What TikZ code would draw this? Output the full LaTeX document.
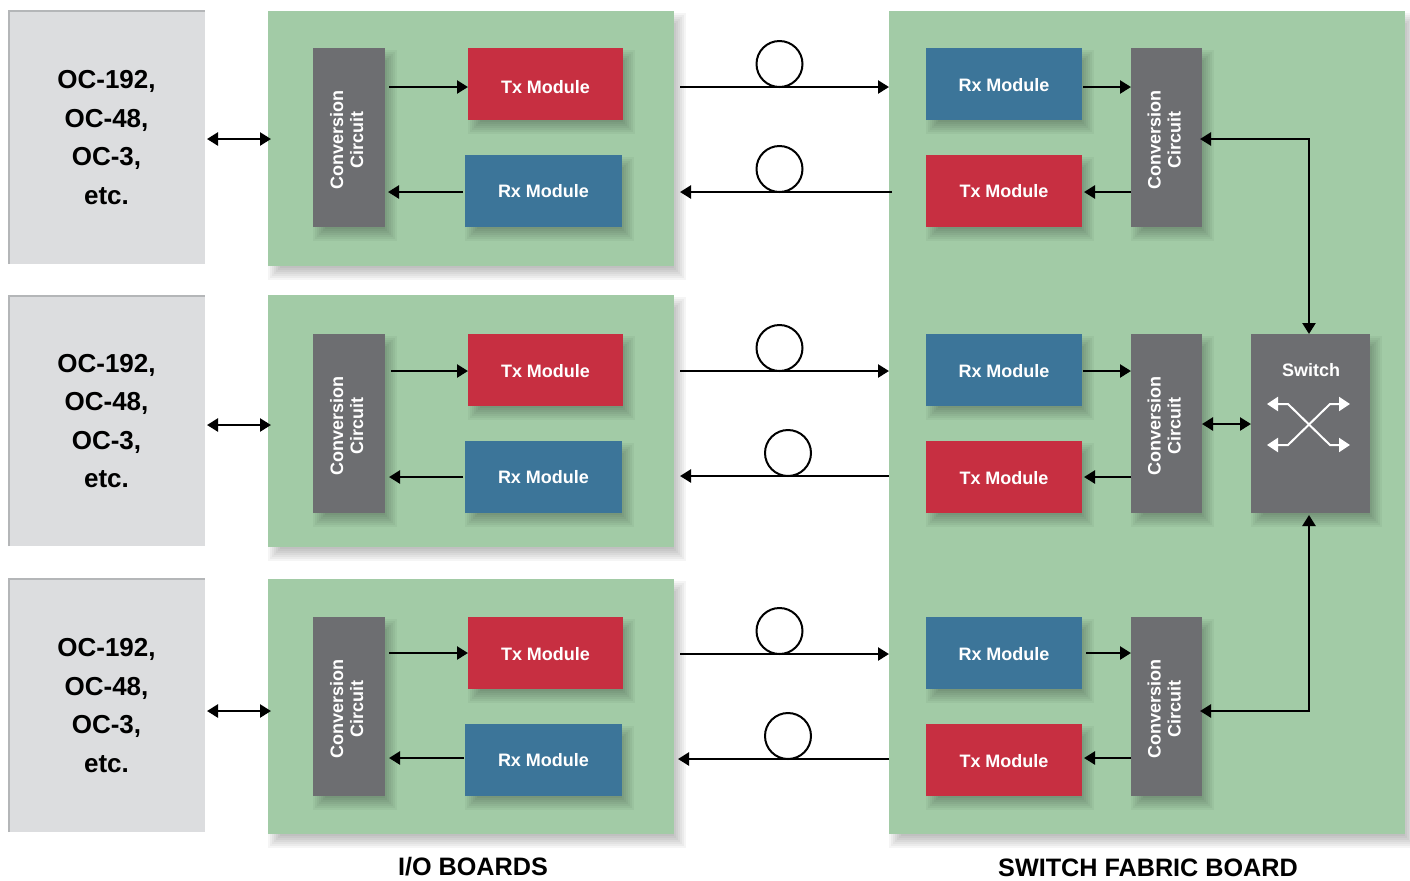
\documentclass[tikz,border=0pt]{standalone}
\usepackage{fontspec}
\usepackage{graphicx}
\setmainfont{Liberation Sans}
\usetikzlibrary{arrows.meta}
\definecolor{greybox}{HTML}{DCDDDF}
\definecolor{greyedge}{HTML}{B4B6B8}
\definecolor{boardgreen}{HTML}{A2CBA6}
\definecolor{darkbox}{HTML}{6D6E71}
\definecolor{redbox}{HTML}{C72F41}
\definecolor{bluebox}{HTML}{3C7599}
\tikzset{
  plainbox/.style={inner sep=0pt,outer sep=0pt,draw=none},
  linebox/.style={plainbox,fill=greybox,font=\fontsize{13}{19.3}\selectfont\bfseries,align=center,text=black},
  board/.style={plainbox,fill=boardgreen},
  convbox/.style={plainbox,fill=darkbox,text=white,font=\fontsize{9}{10}\selectfont\bfseries},
  txbox/.style={plainbox,fill=redbox,text=white,font=\fontsize{9}{11}\selectfont\bfseries},
  rxbox/.style={plainbox,fill=bluebox,text=white,font=\fontsize{9}{11}\selectfont\bfseries},
  lowtext/.style={text height=7.4pt,text depth=0pt},
  lowertext/.style={text height=9.4pt,text depth=0pt},
  arr/.style={draw=black,line width=1.2pt,-{Triangle[length=5.5pt,width=6.5pt]}},
  darr/.style={draw=black,line width=1.2pt,{Triangle[length=5.5pt,width=6.5pt]}-{Triangle[length=5.5pt,width=6.5pt]}},
  warr/.style={draw=white,line width=1pt,{Triangle[length=5.5pt,width=7pt]}-{Triangle[length=5.5pt,width=7pt]}},
  fiber/.style={draw=black,line width=1pt,fill=white},
  title/.style={font=\fontsize{12.6}{15}\selectfont\bfseries,text=black,inner sep=0pt}
}
\newcommand{\softshadow}[4]{%
  \foreach \sk in {-6,-4,...,6} {%
    \fill[black,opacity=0.04] ({#1+6-\sk},{#2+8-\sk}) rectangle ({#3+6+\sk},{#4+8+\sk});
  }%
}
\newcommand{\bx}[7]{%
  \pgfmathsetmacro\bxcx{(#2+#4)/2}%
  \pgfmathsetmacro\bxcy{(#3+#5)/2}%
  \pgfmathsetmacro\bxw{(#4-#2)*0.5}%
  \pgfmathsetmacro\bxh{(#5-#3)*0.5}%
  \node[#6,minimum width=\bxw pt,minimum height=\bxh pt] (#1) at (\bxcx,\bxcy) {#7};
}
\newcommand{\sbx}[7]{\softshadow{#2}{#3}{#4}{#5}\bx{#1}{#2}{#3}{#4}{#5}{#6}{#7}}
\newcommand{\conv}{\rotatebox{90}{\begin{tabular}{@{}c@{}}Conversion\\Circuit\end{tabular}\hspace{2.5pt}}}
\newcommand{\oc}{OC-192,\\OC-48,\\OC-3,\\etc.}
\newcommand{\txm}{Tx Module}
\newcommand{\rxm}{Rx Module}
\begin{document}
\begin{tikzpicture}[x=0.5pt,y=-0.5pt]
\useasboundingbox (0,0) rectangle (1410,880);
% outside blocks
\bx{g1}{8}{11}{205}{264}{linebox}{\oc}
\bx{g2}{8}{296}{205}{546}{linebox}{\oc}
\bx{g3}{8}{579}{205}{832}{linebox}{\oc}
\foreach \ya/\yb in {11/264,296/546,579/832}{
  \draw[greyedge,line width=1.2pt] (9,\yb) -- (9,\ya) -- (205,\ya);
}
% boards
\sbx{b1}{268}{11}{674}{266}{board}{}
\sbx{b2}{268}{295}{674}{547}{board}{}
\sbx{b3}{268}{579}{674}{834}{board}{}
\sbx{sb}{889}{11}{1405}{834}{board}{}
% left side
\sbx{c1}{313}{48}{385}{227}{convbox}{\conv}
\sbx{c2}{313}{334}{385}{513}{convbox}{\conv}
\sbx{c3}{313}{617}{385}{796}{convbox}{\conv}
\sbx{t1}{468}{48}{623}{120}{txbox,lowertext}{\txm}
\sbx{t2}{468}{334}{623}{406}{txbox,lowtext}{\txm}
\sbx{t3}{468}{617}{623}{689}{txbox,lowtext}{\txm}
\sbx{r1}{465}{155}{622}{227}{rxbox}{\rxm}
\sbx{r2}{465}{441}{622}{513}{rxbox}{\rxm}
\sbx{r3}{465}{724}{622}{796}{rxbox}{\rxm}
% right side
\sbx{R1}{926}{48}{1082}{120}{rxbox,lowtext}{\rxm}
\sbx{R2}{926}{334}{1082}{406}{rxbox,lowtext}{\rxm}
\sbx{R3}{926}{617}{1082}{689}{rxbox,lowtext}{\rxm}
\sbx{T1}{926}{155}{1082}{227}{txbox}{\txm}
\sbx{T2}{926}{441}{1082}{513}{txbox,lowtext}{\txm}
\sbx{T3}{926}{724}{1082}{796}{txbox,lowtext}{\txm}
\sbx{C1}{1131}{48}{1202}{227}{convbox}{\conv}
\sbx{C2}{1131}{334}{1202}{513}{convbox}{\conv}
\sbx{C3}{1131}{617}{1202}{796}{convbox}{\conv}
\sbx{sw}{1251}{334}{1370}{513}{convbox}{}
\node[plainbox,text=white,font=\fontsize{9}{11}\selectfont\bfseries] (swl) at (1311,370) {Switch};
% switch icon
\coordinate (i1) at (1267,404); \coordinate (i2) at (1288,404); \coordinate (i3) at (1330,445); \coordinate (i4) at (1350,445);
\coordinate (j1) at (1267,445); \coordinate (j2) at (1288,445); \coordinate (j3) at (1330,404); \coordinate (j4) at (1350,404);
\draw[warr] (i1) -- (i2) -- (i3) -- (i4);
\draw[warr] (j1) -- (j2) -- (j3) -- (j4);
% external links
\coordinate (e1) at (205,139); \coordinate (e2) at (205,425); \coordinate (e3) at (205,711);
\draw[darr,shorten <=1pt,shorten >=-1.5pt] (e1) -- (e1 -| b1.west);
\draw[darr,shorten <=1pt,shorten >=-1.5pt] (e2) -- (e2 -| b2.west);
\draw[darr,shorten <=1pt,shorten >=-1.5pt] (e3) -- (e3 -| b3.west);
% left board arrows
\coordinate (a1) at (389,87); \coordinate (a2) at (391,371); \coordinate (a3) at (389,653);
\draw[arr] (a1) -- (a1 -| t1.west);
\draw[arr] (a2) -- (a2 -| t2.west);
\draw[arr] (a3) -- (a3 -| t3.west);
\coordinate (d1) at (463,192); \coordinate (d2) at (463,477); \coordinate (d3) at (464,758);
\draw[arr,shorten >=1.5pt] (d1) -- (d1 -| c1.east);
\draw[arr,shorten >=2pt] (d2) -- (d2 -| c2.east);
\draw[arr,shorten >=2pt] (d3) -- (d3 -| c3.east);
% fibres
\node[fiber,circle,minimum size=23pt,inner sep=0pt] (f1) at (779.5,64) {};
\node[fiber,circle,minimum size=23pt,inner sep=0pt] (f2) at (779.5,169) {};
\node[fiber,circle,minimum size=23pt,inner sep=0pt] (f3) at (779.5,348) {};
\node[fiber,circle,minimum size=23pt,inner sep=0pt] (f4) at (788,453) {};
\node[fiber,circle,minimum size=23pt,inner sep=0pt] (f5) at (779.5,631) {};
\node[fiber,circle,minimum size=23pt,inner sep=0pt] (f6) at (788,736) {};
\coordinate (s1) at (680,87); \coordinate (s2) at (680,371); \coordinate (s3) at (680,654);
\draw[arr] (s1) -- (s1 -| sb.west);
\draw[arr] (s2) -- (s2 -| sb.west);
\draw[arr] (s3) -- (s3 -| sb.west);
\coordinate (u1) at (892,192); \coordinate (u2) at (889,476); \coordinate (u3) at (889,759);
\coordinate (v1) at (680,192); \coordinate (v2) at (680,476); \coordinate (v3) at (678,759);
\draw[arr] (u1) -- (v1);
\draw[arr] (u2) -- (v2);
\draw[arr] (u3) -- (v3);
% right board arrows
\coordinate (p1) at (1083,87); \coordinate (p2) at (1083,371); \coordinate (p3) at (1086,653);
\draw[arr] (p1) -- (p1 -| C1.west);
\draw[arr] (p2) -- (p2 -| C2.west);
\draw[arr] (p3) -- (p3 -| C3.west);
\coordinate (q1) at (1131,192); \coordinate (q2) at (1131,477); \coordinate (q3) at (1131,758);
\draw[arr,shorten >=1pt] (q1) -- (q1 -| T1.east);
\draw[arr,shorten >=1pt] (q2) -- (q2 -| T2.east);
\draw[arr,shorten >=1pt] (q3) -- (q3 -| T3.east);
% switch links
\coordinate (w1) at (1202,139); \coordinate (w2) at (1202,424); \coordinate (w3) at (1202,711);
\coordinate (x1) at (1309,139); \coordinate (x3) at (1309,711);
\draw[darr,shorten <=-1pt] (w1) -- (x1) -- (x1 |- sw.north);
\draw[darr] (w2) -- (w2 -| sw.west);
\draw[darr,shorten <=-1pt,shorten >=1pt] (w3) -- (x3) -- (x3 |- sw.south);
% titles
\node[title] (l1) at (473,867) {I/O BOARDS};
\node[title] (l2) at (1148,868) {SWITCH FABRIC BOARD};
\end{tikzpicture}
\end{document}
